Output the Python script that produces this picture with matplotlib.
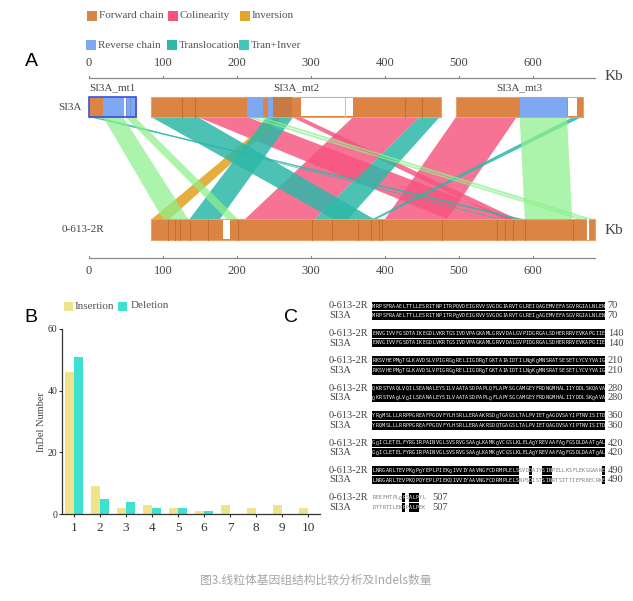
import matplotlib
matplotlib.use('Agg')
import matplotlib.pyplot as plt
from matplotlib.patches import Rectangle, Polygon

plt.rcParams['font.family'] = ['Liberation Serif', 'DejaVu Serif']

# ---------------- data ----------------
legend_row1 = ['Forward chain', 'Colinearity', 'Inversion']
legend_row2 = ['Reverse chain', 'Translocation', 'Tran+Inver']
axis_ticks_kb = [0, 100, 200, 300, 400, 500, 600]
axis_end_kb = 684

contig_names = ['SI3A_mt1', 'SI3A_mt2', 'SI3A_mt3']
contig_start = [0, 84, 496]
contig_end = [64, 476, 668]
rev_start = [19, 214, 242, 582]
rev_end = [64, 235, 249, 646]
dark_start = [249]
dark_end = [274]
top_gap_start = [286, 647]
top_gap_end = [357, 659]
top_white_lines = [49]
top_seg_lines = [126, 143, 346, 427, 450]

ref_name = '0-613-2R'
query_name = 'SI3A'
ref_start, ref_end = 84, 684
bot_gap_start = [181]
bot_gap_end = [191]
bot_white_lines = [674]
bot_seg_lines = [107, 116, 123, 136, 161, 201, 302, 329, 364, 381, 392, 396,
                 477, 551, 562, 573, 589, 654]

# ribbons: SI3A (top) start/end -> 0-613-2R (bottom) start/end, type
rib_top_s = [147, 274, 357, 496, 250, 84, 240, 447, 0, 10, 654, 19, 49, 214, 226, 582]
rib_top_e = [214, 286, 447, 578, 262, 147, 276, 474, 8, 14, 666, 46, 62, 222, 234, 646]
rib_bot_s = [484, 560, 211, 400, 85, 330, 136, 305, 576, 552, 383, 100, 186, 660, 670, 589]
rib_bot_e = [574, 578, 305, 484, 109, 385, 177, 350, 586, 556, 389, 134, 201, 668, 680, 653]
rib_type = ['col', 'col', 'col', 'col', 'inv', 'tra', 'tra', 'tra', 'tra', 'tra', 'tra',
            'ti', 'ti', 'ti', 'ti', 'ti']

indel_len = [1, 2, 3, 4, 5, 6, 7, 8, 9, 10]
insertion = [46, 9, 2, 3, 2, 1, 3, 2, 3, 2]
deletion = [51, 5, 4, 2, 2, 1, 0, 0, 0, 0]

seq_ref = [
    "MRPSFRAAELTTLLESRITNPITRPQVDEIGRVVSVGDGIARVTGLREIQAGEMVEFASGVRGIALNLEN",
    "ENVGIVVFGSDTAIKEGDLVKRTGSIVDVPAGKAMLGRVVDALGVPIDGRGALSDHERRRVEVKAPGIIE",
    "RKSVHEPMQTGLKAVDSLVPIGRGQRELIIGDRQTGKTAIAIDTILNQKQMNSRATSESETLYCVYVAIG",
    "QKRSTVAQLVQILSEANALEYSILVAATASDPAPLQFLAPYSGCAMGEYFRDNGMHALIIYDDLSKQAVA",
    "YRQMSLLLRRPPGREAFPGDVFYLHSRLLERAAKRSDQTGAGSLTALPVIETQAGDVSAYIPTNVISITD",
    "GQICLETELFYRGIRPAINVGLSVSRVGSAAQLKAMKQVCGSLKLELAQYREVAAFAQFGSDLDAATQAL",
    "LNRGARLTEVPKQPQYEPLPIEKQIVVIYAAVNGFCDRMPLELSSVDDAIYSINPELLKSFLEKGGAANE",
    "REEFHTPLQRSALPYL",
]
seq_qry = [
    "MRPSFRAAELTTLLESRITNPITRPQVDEIGRVVSVGDGIARVTGLREIQAGEMVEFASGVRGIALNLEN",
    "ENVGIVVFGSDTAIKEGDLVKRTGSIVDVPAGKAMLGRVVDALGVPIDGRGALSDHERRRVEVKAPGIIE",
    "RKSVHEPMQTGLKAVDSLVPIGRGQRELIIGDRQTGKTAIAIDTILNQKQMNSRATSESETLYCVYVAIG",
    "QKRSTVAQLVQILSEANALEYSILVAATASDPAPLQFLAPYSGCAMGEYFRDNGMHALIIYDDLSKQAVA",
    "YRQMSLLLRRPPGREAFPGDVFYLHSRLLERAAKRSDQTGAGSLTALPVIETQAGDVSAYIPTNVISITD",
    "GQICLETELFYRGIRPAINVGLSVSRVGSAAQLKAMKQVCGSLKLELAQYREVAAFAQFGSDLDAATQAL",
    "LNRGARLTEVPKQPQYEPLPIEKQIVVIYAAVNGFCDRMPLELSNPSDISTSINRTSITTIEFRKECRKE",
    "DYTRTILEKRPALPEK",
]
row_numbers = [70, 140, 210, 280, 360, 420, 490, 507]

caption = '图3.线粒体基因组结构比较分析及Indels数量'

# ---------------- style ----------------
C_FWD = '#DB8443'
C_FWD_EDGE = '#E8A468'
C_SEG = '#C46F30'
C_REV = '#7FA8F2'
C_COL = '#F6547E'
C_INV = '#E3A52A'
C_TRA = '#2DB8A8'
C_TI_LEG = '#45C6B8'
C_TI = '#8DF08D'
TXT = '#555555'

fig = plt.figure(figsize=(6.33, 6.01), dpi=100)
W, H = 633.0, 601.0

# overlay axes in pixel space (legend squares, panel letters, caption)
ov = fig.add_axes([0, 0, 1, 1])
ov.set_xlim(0, W)
ov.set_ylim(H, 0)
ov.axis('off')

leg_x = [87, 168, 240]
leg_cols1 = [C_FWD, C_COL, C_INV]
leg_cols2 = [C_REV, C_TRA, C_TI_LEG]
for i in range(3):
    ov.add_patch(Rectangle((leg_x[i], 10.5), 10, 10, color=leg_cols1[i], lw=0))
    ov.text(leg_x[i] + 12, 16, legend_row1[i], fontsize=8, color=TXT, va='center')
    ov.add_patch(Rectangle((leg_x[i] - 1, 40), 10, 10, color=leg_cols2[i], lw=0))
    ov.text(leg_x[i] + 11, 45.5, legend_row2[i], fontsize=8, color=TXT, va='center')

ov.text(25, 62, 'A', fontsize=14, family=['Liberation Sans', 'DejaVu Sans'], va='center')
ov.text(24, 318, 'B', fontsize=14, family=['Liberation Sans', 'DejaVu Sans'], va='center')
ov.text(284, 318, 'C', fontsize=14, family=['Liberation Sans', 'DejaVu Sans'], va='center')
ov.text(316, 580, caption, fontsize=8.5, color='#a6a6a6', ha='center', va='center',
        family=['Noto Sans CJK SC', 'DejaVu Sans'])

# ---------------- panel A ----------------
px0, pxk = 89.0, 0.74  # pixel of 0 kb, pixels per kb
axA = fig.add_axes([0, 1 - 290 / H, 1, 240 / H])
axA.set_xlim((0 - px0) / pxk, (W - px0) / pxk)
axA.set_ylim(290, 50)
axA.axis('off')
axA.patch.set_alpha(0)

Y_AX_TOP, Y_AX_BOT = 78, 258
TOP_Y0, TOP_Y1 = 97, 117
BOT_Y0, BOT_Y1 = 219, 240

for yax, ylab in [(Y_AX_TOP, 63), (Y_AX_BOT, 271)]:
    axA.plot([0, axis_end_kb], [yax, yax], color='#8a8a8a', lw=0.9)
    for t in axis_ticks_kb:
        axA.plot([t, t], [yax, yax - 2.5], color='#8a8a8a', lw=0.8)
        axA.text(t, ylab, str(t), fontsize=9, color='#444444', ha='center', va='center')
axA.text(697, 76, 'Kb', fontsize=11, color='#444444', ha='left', va='center')
axA.text(697, 230, 'Kb', fontsize=11, color='#444444', ha='left', va='center')

# ribbons
rib_color = {'col': C_COL, 'inv': C_INV, 'tra': C_TRA, 'ti': C_TI}
rib_alpha = {'col': 0.82, 'inv': 0.9, 'tra': 0.85, 'ti': 0.72}
for ts, te, bs, be, ty in zip(rib_top_s, rib_top_e, rib_bot_s, rib_bot_e, rib_type):
    axA.add_patch(Polygon([(ts, TOP_Y1), (te, TOP_Y1), (be, BOT_Y0), (bs, BOT_Y0)],
                          closed=True, facecolor=rib_color[ty], edgecolor='none',
                          alpha=rib_alpha[ty], zorder=2))

# top contigs
for name, s, e in zip(contig_names, contig_start, contig_end):
    axA.add_patch(Rectangle((s, TOP_Y0), e - s, TOP_Y1 - TOP_Y0, facecolor=C_FWD,
                            edgecolor=C_FWD_EDGE, lw=0.8, zorder=3))
    axA.text((s + e) / 2, 88, name, fontsize=8, color='#444444', ha='center', va='center')
for s, e in zip(rev_start, rev_end):
    axA.add_patch(Rectangle((s, TOP_Y0), e - s, TOP_Y1 - TOP_Y0, facecolor=C_REV,
                            edgecolor='none', zorder=4))
for s, e in zip(dark_start, dark_end):
    axA.add_patch(Rectangle((s, TOP_Y0), e - s, TOP_Y1 - TOP_Y0, facecolor='#C87A45',
                            edgecolor='none', zorder=4))
for s, e in zip(top_gap_start, top_gap_end):
    axA.add_patch(Rectangle((s, TOP_Y0 + 1), e - s, TOP_Y1 - TOP_Y0 - 2, facecolor='white',
                            edgecolor='none', zorder=4))
for x in top_seg_lines:
    axA.plot([x, x], [TOP_Y0 + 0.5, TOP_Y1 - 0.5], color=C_SEG if x not in (346,) else '#b8c8e0',
             lw=0.8, zorder=5)
for x in top_white_lines:
    axA.plot([x, x], [TOP_Y0 + 0.5, TOP_Y1 - 0.5], color='white', lw=1.5, zorder=5)
for x in (50, 56):
    axA.plot([x, x], [TOP_Y0 + 0.5, TOP_Y1 - 0.5], color='#6d93dc', lw=0.6, zorder=5)
# blue border of mt1
axA.add_patch(Rectangle((contig_start[0], TOP_Y0), contig_end[0] - contig_start[0],
                        TOP_Y1 - TOP_Y0, facecolor='none', edgecolor='#3c4fe0', lw=1.2, zorder=6))

# bottom reference
axA.add_patch(Rectangle((ref_start, BOT_Y0), ref_end - ref_start, BOT_Y1 - BOT_Y0,
                        facecolor=C_FWD, edgecolor=C_FWD_EDGE, lw=0.8, zorder=3))
for x in bot_seg_lines:
    axA.plot([x, x], [BOT_Y0 + 0.5, BOT_Y1 - 0.5], color=C_SEG, lw=0.7, zorder=5)
for s, e in zip(bot_gap_start, bot_gap_end):
    axA.add_patch(Rectangle((s, BOT_Y0 + 1), e - s, BOT_Y1 - BOT_Y0 - 2, facecolor='white',
                            edgecolor='none', zorder=4))
for x in bot_white_lines:
    axA.plot([x, x], [BOT_Y0 + 1, BOT_Y1 - 1], color='white', lw=1.5, zorder=5)

axA.text((58 - px0) / pxk, 107, query_name, fontsize=8, color='#444444', ha='left', va='center')
axA.text((62 - px0) / pxk, 230, ref_name, fontsize=8, color='#444444', ha='left', va='center')

# ---------------- panel B ----------------
bx0, bx1, by0, by1 = 62, 320, 329, 514
axB = fig.add_axes([bx0 / W, 1 - by1 / H, (bx1 - bx0) / W, (by1 - by0) / H])
bw = 0.36
axB.bar([x - bw / 2 for x in indel_len], insertion, width=bw, color='#EFE48A', lw=0)
axB.bar([x + bw / 2 for x in indel_len], deletion, width=bw, color='#3EE0D0', lw=0)
axB.set_xlim(1 - 12 / 26, 10 + 12 / 26)
axB.set_ylim(0, 60)
axB.set_yticks([0, 20, 40, 60])
axB.set_xticks(indel_len)
axB.tick_params(axis='y', labelsize=7, length=2.5, width=0.8, colors='#333333', pad=1)
axB.tick_params(axis='x', labelsize=9.5, length=2, width=0.8, colors='#333333', pad=4)
for sp in ['top', 'right']:
    axB.spines[sp].set_visible(False)
for sp in ['left', 'bottom']:
    axB.spines[sp].set_color('#333333')
    axB.spines[sp].set_linewidth(0.9)
axB.set_ylabel('InDel Number', fontsize=7.5, color='#444444', labelpad=1)
axB.patch.set_alpha(0)
ov.add_patch(Rectangle((64, 302), 9, 9, color='#EFE48A', lw=0))
ov.text(75, 306.5, 'Insertion', fontsize=8, color=TXT, va='center')
ov.add_patch(Rectangle((118, 302), 9, 9, color='#3EE0D0', lw=0))
ov.text(131, 306, 'Deletion', fontsize=8, color=TXT, va='center')

# ---------------- panel C ----------------
cx0, cpx = 372.0, 3.33
axC = fig.add_axes([320 / W, 1 - 515 / H, 313 / W, 220 / H])
axC.set_xlim((320 - cx0) / cpx, (W - cx0) / cpx)
axC.set_ylim(515, 295)
axC.axis('off')
axC.patch.set_alpha(0)
row_gap, line_gap, box_h = 27.4, 9.6, 8.8
for k in range(len(seq_ref)):
    y_ref = 306 + row_gap * k
    y_qry = y_ref + line_gap
    a, b = seq_ref[k], seq_qry[k]
    for name, yy in ((ref_name, y_ref), (query_name, y_qry)):
        axC.text(-12.9, yy, name, fontsize=7.5, color='#444444', ha='left', va='center')
    n = len(a)
    same = [a[i] == b[i] for i in range(n)]
    for yy, s in ((y_ref, a), (y_qry, b)):
        i = 0
        while i < n:
            if same[i]:
                j = i
                while j < n and same[j]:
                    j += 1
                axC.add_patch(Rectangle((i, yy - box_h / 2), j - i, box_h,
                                        facecolor='black', edgecolor='none'))
                i = j
            else:
                i += 1
        for i, ch in enumerate(s):
            axC.text(i + 0.5, yy, ch, fontsize=3.6, family='DejaVu Sans Mono',
                     color='white' if same[i] else '#777777', ha='center', va='center')
    xn = 70.8 if n >= 70 else n + 2.2
    axC.text(xn, y_ref, str(row_numbers[k]), fontsize=7.5, color='#444444', ha='left', va='center')
    axC.text(xn, y_qry, str(row_numbers[k]), fontsize=7.5, color='#444444', ha='left', va='center')

fig.savefig('out.png', dpi=100)
